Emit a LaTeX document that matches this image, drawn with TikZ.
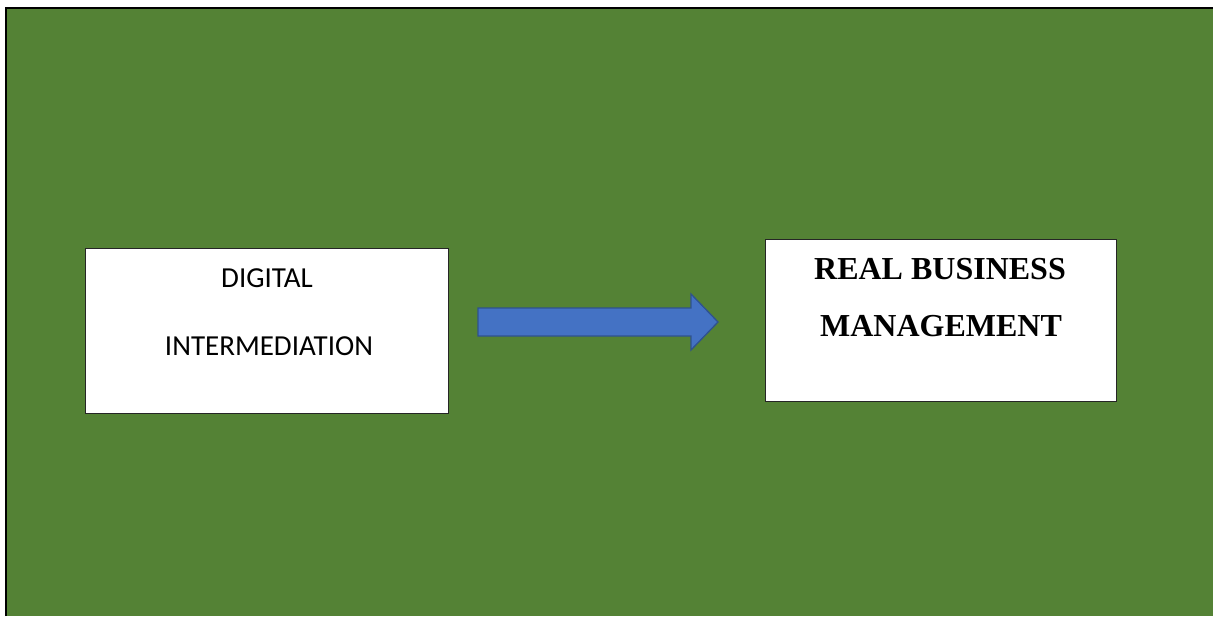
\documentclass[tikz,border=0pt]{standalone}
\usepackage{fontspec}
\usetikzlibrary{calc}
\setmainfont{Liberation Serif}
\newfontfamily\calib{Carlito}
\definecolor{bggreen}{HTML}{548235}
\definecolor{arrblue}{HTML}{4472C4}
\definecolor{arredge}{HTML}{2F528F}
\tikzset{
  boxstyle/.style={draw=black!85, line width=1pt, fill=white, rectangle, inner sep=0pt},
  lefttext/.style={font=\calib\fontsize{29}{29}\selectfont, anchor=base, inner sep=0pt},
  righttext/.style={font=\bfseries\fontsize{32}{32}\selectfont, anchor=base, inner sep=0pt},
  blockarrow/.style={fill=arrblue, draw=arredge, line width=1.3pt, line join=miter}
}
\begin{document}
\begin{tikzpicture}[x=1pt,y=-1pt]
\useasboundingbox (0,0) rectangle (1213,616);
\fill[white] (0,0) rectangle (1213,616);
\fill[bggreen] (6,8) rectangle (1213,616);
\draw[black, line width=2.6pt] (6,616) -- (6,8) -- (1213,8);
% boxes
\node[boxstyle, minimum width=363pt, minimum height=165pt] (digital) at (266.5,330.5) {};
\node[boxstyle, minimum width=351pt, minimum height=162pt] (real) at (940.5,320) {};
% texts
\node[lefttext] (t1) at (267,287) {DIGITAL};
\node[lefttext] (t2) at (269,355) {INTERMEDIATION};
\node[righttext] (t3) at (940,279) {REAL BUSINESS};
\node[righttext] (t4) at (941,336) {MANAGEMENT};
% block arrow
\coordinate (as) at (478,322);
\coordinate (at) at (718,322);
\draw[blockarrow] ($(as)+(0,-14)$) -- (691,308) -- (691,294) -- (at) -- (691,350) -- (691,336) -- ($(as)+(0,14)$) -- cycle;
\end{tikzpicture}
\end{document}
